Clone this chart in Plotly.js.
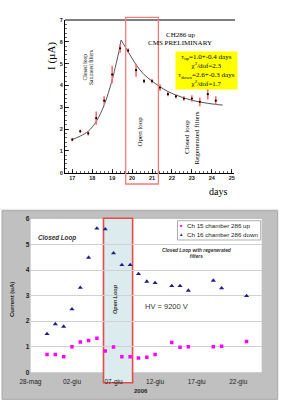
<!DOCTYPE html>
<html><head><meta charset="utf-8">
<script src="https://cdn.plot.ly/plotly-3.0.1.min.js"></script>
<style>html,body{margin:0;padding:0;background:#fff;}#chart{width:281px;height:418px;}</style>
</head><body><div id="chart"></div>
<script>
// ---- Top panel data (CH286, current vs days) ----
const topDays = [17.0,17.4,17.8,18.2,18.6,19.0,19.4,19.8,20.2,20.6,21.0,21.4,21.8,22.2,22.6,23.0,23.4,23.8,24.2];
const topCurrent = [1.52,1.90,1.80,2.50,3.30,4.50,5.70,5.60,4.70,4.20,4.20,3.90,3.60,3.50,3.40,3.40,3.25,3.60,3.30];
const topError = [0.08,0.08,0.10,0.30,0.20,0.40,0.20,0.10,0.30,0.10,0.10,0.15,0.10,0.10,0.10,0.15,0.20,0.25,0.20];
const fitUpDays = [17.0,17.4,17.8,18.2,18.6,19.0,19.2,19.35,19.45];
const fitUpCurrent = [1.52,1.68,1.90,2.35,3.10,4.25,5.00,5.60,6.08];
const fitDownDays = [19.45,19.8,20.2,20.6,21.0,21.4,21.8,22.2,22.6,23.0,23.4,23.8,24.2,24.55];
const fitDownCurrent = [6.08,5.55,4.95,4.50,4.20,3.94,3.72,3.56,3.43,3.32,3.24,3.18,3.13,3.10];
const topXTicks = [17,18,19,20,21,22,23,24,25];
const topYTicks = [0,1,2,3,4,5,6,7];

// ---- Bottom panel data (2006) ----
const dates = ['2006-05-30','2006-05-31','2006-06-01','2006-06-02','2006-06-03','2006-06-04','2006-06-05','2006-06-06','2006-06-07','2006-06-08','2006-06-09','2006-06-10','2006-06-11','2006-06-12','2006-06-14','2006-06-15','2006-06-16','2006-06-19','2006-06-20','2006-06-23'];
const ch15 = [0.70,0.70,0.61,1.00,1.19,1.24,1.33,0.83,0.99,0.61,0.61,0.56,0.59,0.70,1.17,0.98,1.00,1.00,1.02,1.21];
const ch16 = [1.50,1.89,1.79,2.47,3.31,4.49,5.63,5.60,4.66,4.20,4.20,3.85,3.55,3.50,3.38,3.38,3.20,3.59,3.29,2.99];
const dateTickVals = ['2006-05-28','2006-06-02','2006-06-07','2006-06-12','2006-06-17','2006-06-22'];
const dateTickText = ['28-mag','02-giu','07-giu','12-giu','17-giu','22-giu'];
const botYTicks = [0,1,2,3,4,5,6];

const W = 281, H = 418;
const px = v => v / W;
const py = v => 1 - v / H;
const SERIF = 'Liberation Serif, Times New Roman, serif';
const SANS = 'Liberation Sans, Arial, sans-serif';

function ann(x, y, text, font, extra) {
  return Object.assign({xref:'paper', yref:'paper', x:px(x), y:py(y), text:text, showarrow:false,
    xanchor:'center', yanchor:'middle', font:font}, extra || {});
}

const traces = [
  {x: fitUpDays, y: fitUpCurrent, xaxis:'x', yaxis:'y', mode:'lines', line:{color:'#555', width:1, shape:'spline'}, hoverinfo:'skip'},
  {x: fitDownDays, y: fitDownCurrent, xaxis:'x', yaxis:'y', mode:'lines', line:{color:'#555', width:1, shape:'spline'}, hoverinfo:'skip'},
  {x: topDays, y: topCurrent, xaxis:'x', yaxis:'y', mode:'markers',
   marker:{color:'#000', size:2.2},
   error_y:{type:'data', array: topError, color:'#ff6b6b', thickness:1.6, width:0}},
  {x: dates, y: ch15, xaxis:'x2', yaxis:'y2', mode:'markers', name:'Ch 15 chamber 286 up',
   marker:{color:'#ff00ff', size:3.5, symbol:'square'}},
  {x: dates, y: ch16, xaxis:'x2', yaxis:'y2', mode:'markers', name:'Ch 16 chamber 286 down',
   marker:{color:'#1c1c8c', size:4.5, symbol:'triangle-up'}}
];

const layout = {
  width: W, height: H,
  margin: {l:0, r:0, t:0, b:0},
  paper_bgcolor: '#fff',
  plot_bgcolor: 'rgba(0,0,0,0)',
  showlegend: false,
  xaxis: {
    domain: [px(65), px(234)], range: [16.634, 25.115], anchor:'y',
    tickvals: topXTicks, showgrid:false, zeroline:false,
    showline:true, linecolor:'#000', linewidth:1,
    ticks:'inside', ticklen:4, tickcolor:'#000', tickwidth:0.8,
    minor:{ticks:'inside', ticklen:2, dtick:0.2, tick0:17, tickcolor:'#000', tickwidth:0.6},
    tickfont:{family:SANS, size:5.5, color:'#222', weight:'bold'}
  },
  yaxis: {
    domain: [py(172.7), py(20)], range: [0, 7], anchor:'x',
    tickvals: topYTicks, showgrid:false, zeroline:false,
    showline:true, linecolor:'#000', linewidth:1,
    ticks:'inside', ticklen:4, tickcolor:'#000', tickwidth:0.8,
    minor:{ticks:'inside', ticklen:2, dtick:0.2, tickcolor:'#000', tickwidth:0.6},
    tickfont:{family:SANS, size:5.5, color:'#222', weight:'bold'}
  },
  xaxis2: {
    type:'date', domain:[px(30.4), px(261.7)], range:['2006-05-28 00:00','2006-06-24 19:40'], anchor:'y2',
    tickvals: dateTickVals, ticktext: dateTickText, showgrid:false, zeroline:false, showline:false, ticks:'',
    ticklabelstandoff: 4,
    tickfont:{family:SANS, size:6.5, color:'#222'}
  },
  yaxis2: {
    domain:[py(372.3), py(219)], range:[0, 6], anchor:'x2',
    tickvals: botYTicks, showgrid:true, gridcolor:'#d2d2d2', gridwidth:1, zeroline:false, showline:false, ticks:'',
    tickfont:{family:SANS, size:6.5, color:'#222', weight:'bold'}
  },
  shapes: [
    {type:'line', xref:'paper', yref:'paper', x0:0, x1:px(278), y0:py(209.3), y1:py(209.3), line:{color:'#e4e4e4', width:1}, layer:'below'},
    {type:'line', xref:'paper', yref:'paper', x0:px(65), x1:px(235), y0:py(20), y1:py(20), line:{color:'#000', width:1}, layer:'above'},
    {type:'rect', xref:'x', yref:'paper', x0:19.68, x1:21.32, y0:py(184), y1:py(17.3), line:{color:'#f27c7c', width:1.3}, fillcolor:'rgba(0,0,0,0)', layer:'above'},
    {type:'rect', xref:'paper', yref:'paper', x0:px(2), x1:px(277.7), y0:py(399.3), y1:py(210.7), fillcolor:'#c0c0c0', line:{color:'#a6a6a6', width:1}, layer:'below'},
    {type:'rect', xref:'paper', yref:'paper', x0:px(30.7), x1:px(261.7), y0:py(372.3), y1:py(219), fillcolor:'#ffffff', line:{width:0}, layer:'below'},
    {type:'rect', xref:'x2', yref:'paper', x0:'2006-06-05 19:00', x1:'2006-06-09 07:00', y0:py(382.7), y1:py(218.3), fillcolor:'#dcecee', line:{color:'#e84a4a', width:1.6}, layer:'below'},
    {type:'rect', xref:'paper', yref:'paper', x0:px(177.5), x1:px(260.7), y0:py(240), y1:py(220.7), fillcolor:'#ffffff', line:{color:'#9a9a9a', width:0.8}, layer:'above'}
  ],
  annotations: [
    ann(51, 56, 'I (µA)', {family:SERIF, size:11, color:'#000'}, {textangle:-90}),
    ann(218, 191, 'days', {family:SERIF, size:10, color:'#000'}),
    ann(180, 35, 'CH286 up', {family:SERIF, size:7, color:'#000'}),
    ann(180, 43.5, 'CMS PRELIMINARY', {family:SERIF, size:7, color:'#000'}),
    ann(206.5, 70, 'τ<sub>up</sub>=1.0+-0.4 days<br>χ<sup>2</sup>/dof=2.3<br>τ<sub>down</sub>=2.6+-0.3 days<br>χ<sup>2</sup>/dof=1.7',
        {family:SERIF, size:7, color:'#000'}, {bgcolor:'#ffff00', width:59, height:35, borderpad:1}),
    ann(84, 67.5, 'Closed loop', {family:SERIF, size:5.5, color:'#000'}, {textangle:-90}),
    ann(90.5, 67.5, 'Saturated filters', {family:SERIF, size:5.5, color:'#000'}, {textangle:-90}),
    ann(139.5, 132, 'Open loop', {family:SERIF, size:7, color:'#000'}, {textangle:-90}),
    ann(187, 137, 'Closed loop', {family:SERIF, size:7, color:'#000'}, {textangle:-90}),
    ann(196.5, 138, 'Regenerated filters', {family:SERIF, size:7, color:'#000'}, {textangle:-90}),
    ann(12, 300, '<b>Current (uA)</b>', {family:SANS, size:6, color:'#222'}, {textangle:-90}),
    ann(141, 390.5, '<b>2006</b>', {family:SANS, size:6, color:'#222'}),
    ann(36, 238.3, '<b><i>Closed Loop</i></b>', {family:SANS, size:6.3, color:'#333'}, {xanchor:'left'}),
    ann(196.5, 253.6, '<b><i>Closed Loop with regenerated<br>filters</i></b>', {family:SANS, size:4.8, color:'#333'}),
    ann(166.7, 306, 'HV = 9200 V', {family:SANS, size:7.5, color:'#333'}),
    ann(115, 299, '<b><i>Open Loop</i></b>', {family:SANS, size:5.5, color:'#333'}, {textangle:-90}),
    ann(181, 225, '<span style="color:#ff00ff">■</span>', {family:SANS, size:4, color:'#ff00ff'}),
    ann(185.3, 225, 'Ch 15 chamber 286 up', {family:SANS, size:6.2, color:'#222'}, {xanchor:'left'}),
    ann(181, 234.7, '<span style="color:#1c1c8c">▲</span>', {family:SANS, size:4.5, color:'#1c1c8c'}),
    ann(185.3, 234.7, 'Ch 16 chamber 286 down', {family:SANS, size:6.2, color:'#222'}, {xanchor:'left'})
  ]
};

Plotly.newPlot('chart', traces, layout, {staticPlot:true, displayModeBar:false});
</script>
</body></html>
